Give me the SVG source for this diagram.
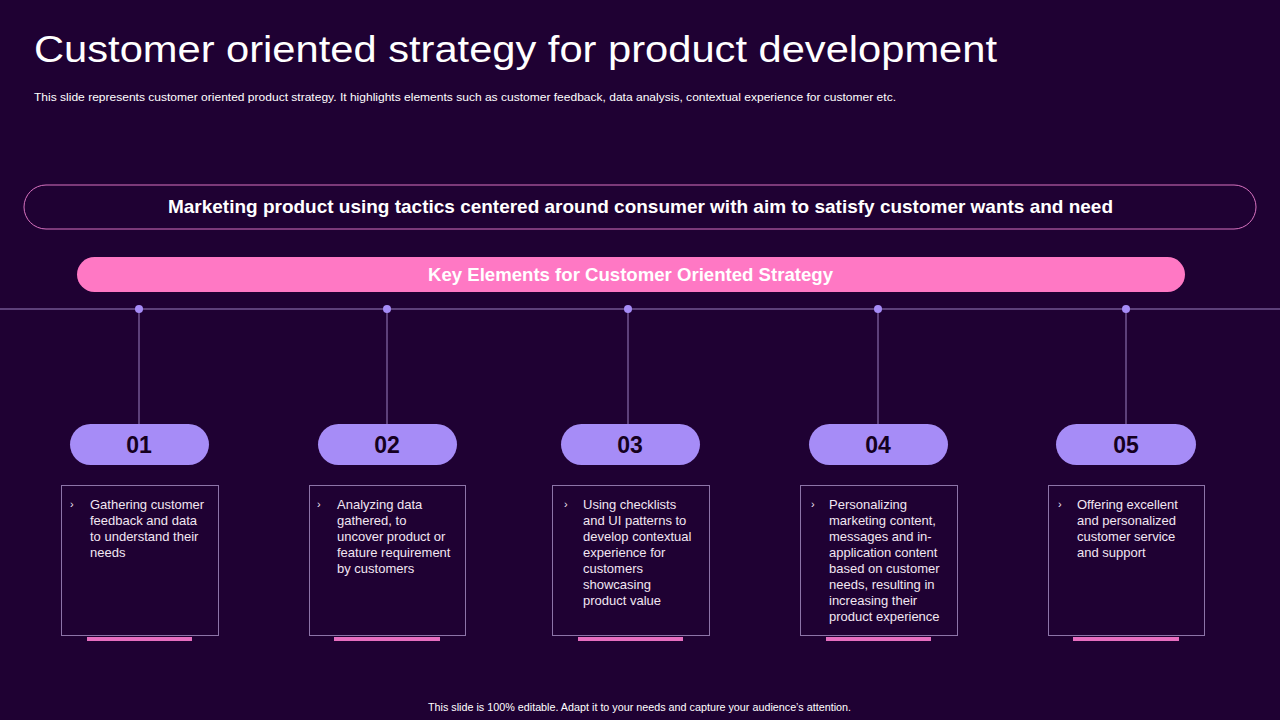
<svg xmlns="http://www.w3.org/2000/svg" width="1280" height="720" viewBox="0 0 1280 720">
<style>
.title{font-family:"Liberation Sans",Arial,sans-serif;font-size:37px;fill:#ffffff}
.sub{font-family:"Liberation Sans",Arial,sans-serif;font-size:11px;fill:#ffffff}
.band{font-family:"Liberation Sans",Arial,sans-serif;font-size:19px;font-weight:bold;fill:#ffffff}
.num{font-family:"Liberation Sans",Arial,sans-serif;font-size:23px;font-weight:bold;fill:#150020;text-anchor:middle}
.pill{fill:#a68cf7}
.box{fill:none;stroke:#8c74a8;stroke-width:1}
.bar{fill:#e66ec0}
.body{font-family:"Liberation Sans",Arial,sans-serif;font-size:13px;fill:#f2e6f2}
.chev{font-family:"Liberation Sans",Arial,sans-serif;font-size:11px;fill:#f2e6f2}
.conn{stroke:#9a80c0;stroke-width:1;fill:none}
.dot{fill:#a68cf7}
.foot{font-family:"Liberation Sans",Arial,sans-serif;font-size:10.5px;fill:#ffffff}
</style>
<rect x="0" y="0" width="1280" height="720" fill="#1f0133"/>
<g id="header">
<text class="title" x="34" y="62" textLength="963" lengthAdjust="spacingAndGlyphs">Customer oriented strategy for product development</text>
<text class="sub" x="34" y="101" textLength="862" lengthAdjust="spacingAndGlyphs">This slide represents customer oriented product strategy. It highlights elements such as customer feedback, data analysis, contextual experience for customer etc.</text>
</g>
<g id="banner">
<rect x="24" y="185" width="1232" height="44" rx="22" fill="none" stroke="#d873c0" stroke-width="1"/>
<text class="band" x="168" y="213" textLength="945" lengthAdjust="spacingAndGlyphs">Marketing product using tactics centered around consumer with aim to satisfy customer wants and need</text>
</g>
<g id="key">
<rect x="77" y="257" width="1108" height="35" rx="17.5" fill="#ff78c4"/>
<text class="band" x="428" y="281" font-size="18" textLength="405" lengthAdjust="spacingAndGlyphs">Key Elements for Customer Oriented Strategy</text>
</g>
<g id="connectors">
<line class="conn" x1="0" y1="309" x2="1280" y2="309"/>
<line class="conn" x1="139" y1="309" x2="139" y2="424"/>
<line class="conn" x1="387" y1="309" x2="387" y2="424"/>
<line class="conn" x1="628" y1="309" x2="628" y2="424"/>
<line class="conn" x1="878" y1="309" x2="878" y2="424"/>
<line class="conn" x1="1126" y1="309" x2="1126" y2="424"/>
<circle class="dot" cx="139" cy="309" r="4"/>
<circle class="dot" cx="387" cy="309" r="4"/>
<circle class="dot" cx="628" cy="309" r="4"/>
<circle class="dot" cx="878" cy="309" r="4"/>
<circle class="dot" cx="1126" cy="309" r="4"/>
</g>
<g id="step1">
<rect class="pill" x="70" y="424" width="139" height="41" rx="20.5"/>
<text class="num" x="139" y="453">01</text>
<rect class="box" x="61.5" y="485.5" width="157" height="150"/>
<rect class="bar" x="87" y="637" width="105" height="4"/>
<text class="chev" x="70" y="508">›</text>
<text class="body" x="90" y="509"><tspan x="90">Gathering customer</tspan><tspan x="90" dy="16">feedback and data</tspan><tspan x="90" dy="16">to understand their</tspan><tspan x="90" dy="16">needs</tspan></text>
</g>
<g id="step2">
<rect class="pill" x="318" y="424" width="139" height="41" rx="20.5"/>
<text class="num" x="387" y="453">02</text>
<rect class="box" x="309.5" y="485.5" width="156" height="150"/>
<rect class="bar" x="334" y="637" width="106" height="4"/>
<text class="chev" x="317" y="508">›</text>
<text class="body" x="337" y="509"><tspan x="337">Analyzing data</tspan><tspan x="337" dy="16">gathered, to</tspan><tspan x="337" dy="16">uncover product or</tspan><tspan x="337" dy="16">feature requirement</tspan><tspan x="337" dy="16">by customers</tspan></text>
</g>
<g id="step3">
<rect class="pill" x="561" y="424" width="139" height="41" rx="20.5"/>
<text class="num" x="630" y="453">03</text>
<rect class="box" x="552.5" y="485.5" width="157" height="150"/>
<rect class="bar" x="578" y="637" width="105" height="4"/>
<text class="chev" x="564" y="508">›</text>
<text class="body" x="583" y="509"><tspan x="583">Using checklists</tspan><tspan x="583" dy="16">and UI patterns to</tspan><tspan x="583" dy="16">develop contextual</tspan><tspan x="583" dy="16">experience for</tspan><tspan x="583" dy="16">customers</tspan><tspan x="583" dy="16">showcasing</tspan><tspan x="583" dy="16">product value</tspan></text>
</g>
<g id="step4">
<rect class="pill" x="809" y="424" width="139" height="41" rx="20.5"/>
<text class="num" x="878" y="453">04</text>
<rect class="box" x="800.5" y="485.5" width="157" height="150"/>
<rect class="bar" x="826" y="637" width="105" height="4"/>
<text class="chev" x="811" y="508">›</text>
<text class="body" x="829" y="509"><tspan x="829">Personalizing</tspan><tspan x="829" dy="16">marketing content,</tspan><tspan x="829" dy="16">messages and in-</tspan><tspan x="829" dy="16">application content</tspan><tspan x="829" dy="16">based on customer</tspan><tspan x="829" dy="16">needs, resulting in</tspan><tspan x="829" dy="16">increasing their</tspan><tspan x="829" dy="16">product experience</tspan></text>
</g>
<g id="step5">
<rect class="pill" x="1056" y="424" width="140" height="41" rx="20.5"/>
<text class="num" x="1126" y="453">05</text>
<rect class="box" x="1048.5" y="485.5" width="156" height="150"/>
<rect class="bar" x="1073" y="637" width="106" height="4"/>
<text class="chev" x="1058" y="508">›</text>
<text class="body" x="1077" y="509"><tspan x="1077">Offering excellent</tspan><tspan x="1077" dy="16">and personalized</tspan><tspan x="1077" dy="16">customer service</tspan><tspan x="1077" dy="16">and support</tspan></text>
</g>
<g id="footer">
<text class="foot" x="428" y="711" textLength="423" lengthAdjust="spacingAndGlyphs">This slide is 100% editable.  Adapt it to your needs and capture your audience’s attention.</text>
</g>
</svg>
